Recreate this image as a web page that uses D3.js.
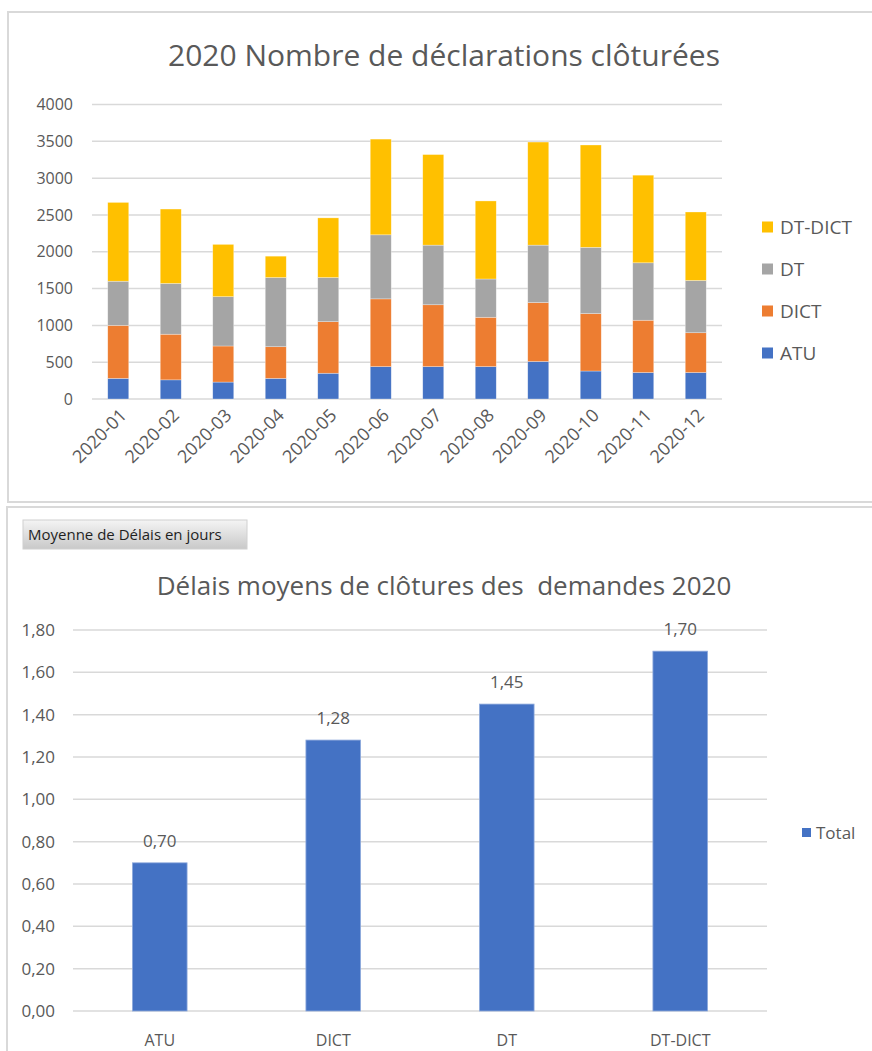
<!DOCTYPE html>
<html>
<head>
<meta charset="utf-8">
<script src="https://cdn.jsdelivr.net/npm/d3@7"></script>
<style>
  html, body { margin: 0; padding: 0; background: #fff; }
  svg { display: block; }
  text { font-family: "Open Sans", "Noto Sans", sans-serif; }
</style>
</head>
<body>
<svg id="chart" width="872" height="1051"></svg>
<script>
// Monthly closed declarations, 2020, per request type
const months = ["2020-01","2020-02","2020-03","2020-04","2020-05","2020-06",
                "2020-07","2020-08","2020-09","2020-10","2020-11","2020-12"];
const atu    = [280, 260, 230, 280, 350, 440, 440, 440, 510, 380, 360, 360];
const dict   = [720, 620, 490, 430, 700, 920, 840, 670, 800, 780, 710, 540];
const dt     = [600, 690, 670, 940, 600, 870, 810, 520, 780, 900, 780, 710];
const dtDict = [1070, 1010, 710, 290, 810, 1300, 1230, 1060, 1400, 1390, 1190, 930];
const stackKeys = ["ATU", "DICT", "DT", "DT-DICT"];
const stackColors = ["#4472C4", "#ED7D31", "#A5A5A5", "#FFC000"];
const countTicks = [0, 500, 1000, 1500, 2000, 2500, 3000, 3500, 4000];

// Average closing delay (days) per request type
const delayTypes = ["ATU", "DICT", "DT", "DT-DICT"];
const delayValues = [0.70, 1.28, 1.45, 1.70];
const delayTicks = [0, 0.2, 0.4, 0.6, 0.8, 1.0, 1.2, 1.4, 1.6, 1.8];

const textGray = "#595959";
const gridGray = "#d9d9d9";
const frameGray = "#d9d9d9";

const svg = d3.select("#chart");

// ---------- Top panel: stacked monthly counts ----------
svg.append("rect")
  .attr("x", 8).attr("y", 12).attr("width", 900).attr("height", 490)
  .attr("fill", "#fff").attr("stroke", frameGray).attr("stroke-width", 2);

svg.append("text")
  .attr("x", 444).attr("y", 66)
  .attr("text-anchor", "middle")
  .attr("font-size", 30).attr("fill", textGray)
  .text("2020 Nombre de déclarations clôturées");

const x1 = d3.scaleBand().domain(months).range([92, 722]).paddingInner(0.6).paddingOuter(0.3);
const y1 = d3.scaleLinear().domain([0, 4000]).range([399, 104.5]);

const g1 = svg.append("g");
g1.append("g").selectAll("line").data(countTicks).join("line")
  .attr("x1", 92).attr("x2", 722)
  .attr("y1", d => y1(d)).attr("y2", d => y1(d))
  .attr("stroke", gridGray).attr("stroke-width", 1.5);

const yAxis1 = d3.axisLeft(y1).tickValues(countTicks).tickSize(0).tickPadding(0).tickFormat(d3.format("d"));
g1.append("g").attr("transform", "translate(73,0)").call(yAxis1)
  .call(g => g.select(".domain").remove())
  .call(g => g.selectAll("text").attr("font-size", 16).attr("fill", textGray)
    .attr("font-family", "'Open Sans', 'Noto Sans', sans-serif"));

const table = months.map((m, i) => ({ month: m, "ATU": atu[i], "DICT": dict[i], "DT": dt[i], "DT-DICT": dtDict[i] }));
const series = d3.stack().keys(stackKeys)(table);

g1.append("g").selectAll("g").data(series).join("g")
  .attr("fill", (d, i) => stackColors[i])
  .selectAll("rect").data(d => d).join("rect")
  .attr("x", d => x1(d.data.month))
  .attr("width", x1.bandwidth())
  .attr("y", d => y1(d[1]))
  .attr("height", d => y1(d[0]) - y1(d[1]))
  .attr("stroke", "#ffffff").attr("stroke-opacity", 0.5).attr("stroke-width", 0.6);

// rotated month labels
g1.append("g").selectAll("text").data(months).join("text")
  .attr("transform", d => `translate(${x1(d) + x1.bandwidth() / 2 + 5},${412}) rotate(-45)`)
  .attr("text-anchor", "end")
  .attr("dy", "0.35em")
  .attr("font-size", 18).attr("fill", textGray)
  .text(d => d);

// legend (top series first)
const legend1 = g1.append("g");
const legendOrder = [3, 2, 1, 0];
legendOrder.forEach((k, i) => {
  const cy = 227 + i * 42;
  legend1.append("rect").attr("x", 762).attr("y", cy - 5.5).attr("width", 11).attr("height", 11)
    .attr("fill", stackColors[k]);
  legend1.append("text").attr("x", 780).attr("y", cy).attr("dy", "0.35em")
    .attr("font-size", 19).attr("fill", textGray).text(stackKeys[k]);
});

// ---------- Bottom panel: average delays ----------
svg.append("rect")
  .attr("x", 7).attr("y", 507).attr("width", 900).attr("height", 600)
  .attr("fill", "#fff").attr("stroke", frameGray).attr("stroke-width", 2);

// pivot field button
const defs = svg.append("defs");
const grad = defs.append("linearGradient").attr("id", "btnGrad")
  .attr("x1", 0).attr("y1", 0).attr("x2", 0).attr("y2", 1);
grad.append("stop").attr("offset", "0%").attr("stop-color", "#f4f4f4");
grad.append("stop").attr("offset", "100%").attr("stop-color", "#c9c9c9");
svg.append("rect").attr("x", 23).attr("y", 520).attr("width", 224).attr("height", 29)
  .attr("fill", "url(#btnGrad)").attr("stroke", "#d0d0d0").attr("stroke-width", 1);
svg.append("text").attr("x", 28).attr("y", 540)
  .attr("font-size", 15).attr("fill", "#1f1f1f")
  .text("Moyenne de Délais en jours");

svg.append("text")
  .attr("x", 444).attr("y", 595)
  .attr("text-anchor", "middle")
  .attr("font-size", 26).attr("fill", textGray)
  .style("white-space", "pre")
  .text("Délais moyens de clôtures des  demandes 2020");

const x2 = d3.scaleBand().domain(delayTypes).range([73, 767]).paddingInner(0.685).paddingOuter(0.3425);
const y2 = d3.scaleLinear().domain([0, 1.8]).range([1011, 630]);
const fmt2 = v => d3.format(".2f")(v).replace(".", ",");

const g2 = svg.append("g");
g2.append("g").selectAll("line").data(delayTicks).join("line")
  .attr("x1", 73).attr("x2", 767)
  .attr("y1", d => y2(d)).attr("y2", d => y2(d))
  .attr("stroke", gridGray).attr("stroke-width", 1.5);

const yAxis2 = d3.axisLeft(y2).tickValues(delayTicks).tickSize(0).tickPadding(0).tickFormat(fmt2);
g2.append("g").attr("transform", "translate(55,0)").call(yAxis2)
  .call(g => g.select(".domain").remove())
  .call(g => g.selectAll("text").attr("font-size", 17).attr("fill", textGray)
    .attr("font-family", "'Open Sans', 'Noto Sans', sans-serif"));

const delayData = delayTypes.map((t, i) => ({ type: t, value: delayValues[i] }));
g2.append("g").selectAll("rect").data(delayData).join("rect")
  .attr("x", d => x2(d.type))
  .attr("width", x2.bandwidth())
  .attr("y", d => y2(d.value))
  .attr("height", d => y2(0) - y2(d.value))
  .attr("fill", "#4472C4")
  .attr("stroke", "#8faadc").attr("stroke-width", 0.8);

g2.append("g").selectAll("text").data(delayData).join("text")
  .attr("x", d => x2(d.type) + x2.bandwidth() / 2)
  .attr("y", d => y2(d.value) - 16)
  .attr("text-anchor", "middle")
  .attr("font-size", 17).attr("fill", textGray)
  .text(d => fmt2(d.value));

g2.append("g").selectAll("text").data(delayTypes).join("text")
  .attr("x", d => x2(d) + x2.bandwidth() / 2)
  .attr("y", 1046)
  .attr("text-anchor", "middle")
  .attr("font-size", 16).attr("fill", textGray)
  .text(d => d);

// legend
svg.append("rect").attr("x", 802).attr("y", 828).attr("width", 9).attr("height", 9).attr("fill", "#4472C4");
svg.append("text").attr("x", 816).attr("y", 833).attr("dy", "0.35em")
  .attr("font-size", 17).attr("fill", textGray).text("Total");
</script>
</body>
</html>
